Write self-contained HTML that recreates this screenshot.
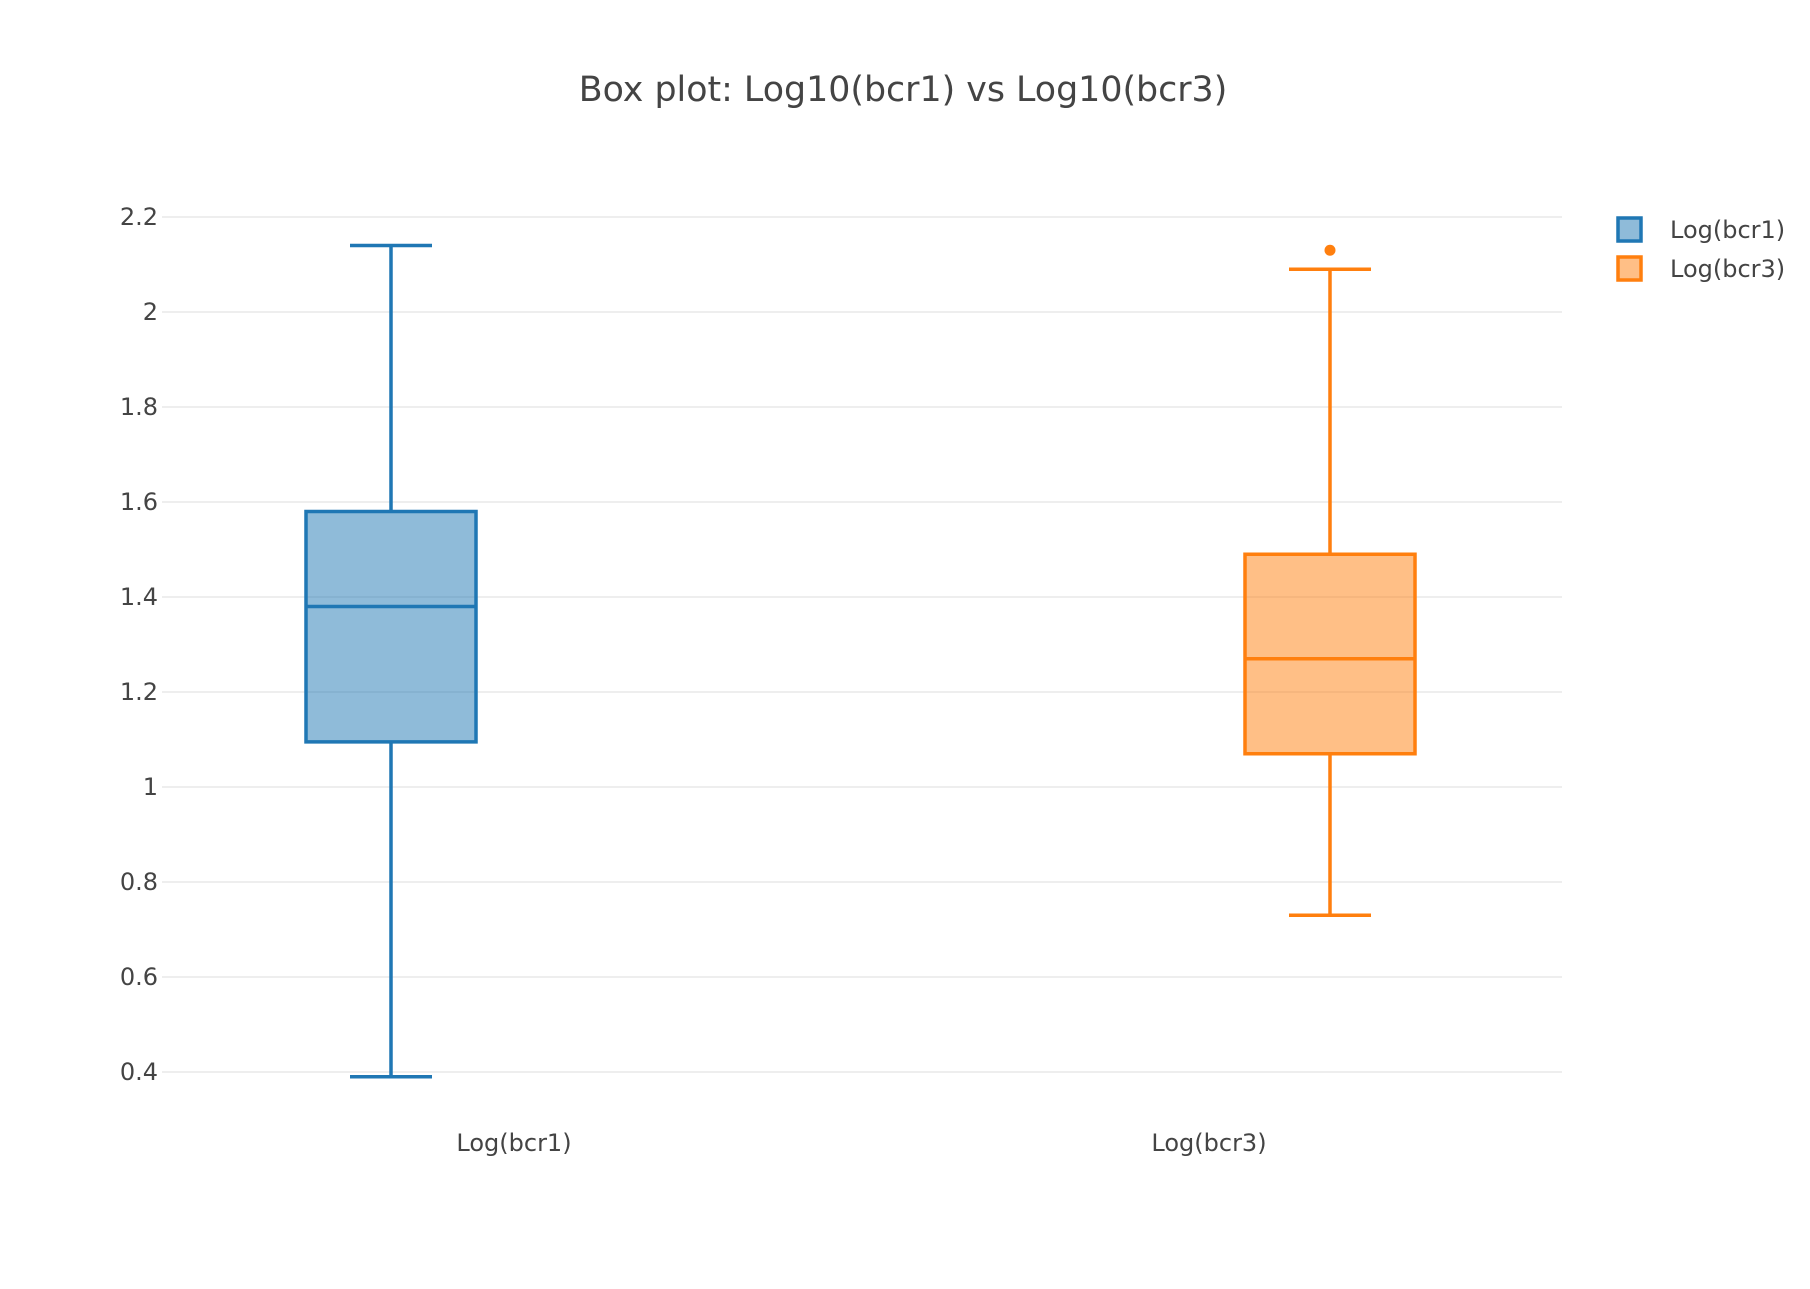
<!DOCTYPE html>
<html><head><meta charset="utf-8"><style>
body{margin:0;background:#fff;}
svg text{font-family:"DejaVu Sans","Liberation Sans",sans-serif;fill:#444;}
</style></head><body>
<svg id="chart" width="1810" height="1284" xmlns="http://www.w3.org/2000/svg">
<text x="903" y="101" text-anchor="middle" font-size="34.8">Box plot: Log10(bcr1) vs Log10(bcr3)</text>
<g id="grid"></g>
<g id="yticks"></g>
<g id="boxes"></g>
<g id="xlabels"></g>
<g>
<g>
<rect x="1618" y="218" width="23" height="23" fill="rgba(31,119,180,0.5)" stroke="#1f77b4" stroke-width="3.5"/>
<text x="1670" y="238" font-size="24">Log(bcr1)</text></g>
<g>
<rect x="1618" y="257" width="23" height="23" fill="rgba(255,127,14,0.5)" stroke="#ff7f0e" stroke-width="3.5"/>
<text x="1670" y="277" font-size="24">Log(bcr3)</text></g>
</g>
</svg>
<script>
const categories = ["Log(bcr1)", "Log(bcr3)"];
const lowerWhisker = [0.39, 0.73];
const q1 = [1.095, 1.07];
const median = [1.38, 1.27];
const q3 = [1.58, 1.49];
const upperWhisker = [2.14, 2.09];
const outliers = [[], [2.13]];
const yTicks = [0.4, 0.6, 0.8, 1, 1.2, 1.4, 1.6, 1.8, 2, 2.2];
const yTickLabels = ["0.4","0.6","0.8","1","1.2","1.4","1.6","1.8","2","2.2"];

const NS = "http://www.w3.org/2000/svg";
const colors = ["#1f77b4", "#ff7f0e"];
const fills = ["rgba(31,119,180,0.5)", "rgba(255,127,14,0.5)"];
const plotL = 162, plotR = 1562;
function yScale(v){ return 1072 - (v - 0.4) * (1072 - 217) / 1.8; }
function xBox(i){ return 391 + i * (1330 - 391); }
function xLabel(i){ return 514 + i * (1209 - 514); }
function mk(tag, attrs, parent){
  const el = document.createElementNS(NS, tag);
  for (const k in attrs) el.setAttribute(k, attrs[k]);
  parent.appendChild(el); return el;
}
const grid = document.getElementById('grid'), yt = document.getElementById('yticks');
yTicks.forEach((t, i) => {
  const y = yScale(t);
  const l = mk('line', {x1: plotL, x2: plotR, y1: y, y2: y, stroke: '#e8e8e8', 'stroke-width': 1.5}, grid);
  
  
  const tx = mk('text', {x: 158, y: y + 8, 'text-anchor': 'end', 'font-size': 24}, yt);
  tx.textContent = yTickLabels[i];
  
  
});
const boxes = document.getElementById('boxes'), xl = document.getElementById('xlabels');
categories.forEach((c, i) => {
  const cx = xBox(i), hw = 85, cw = 41, col = colors[i];
  const g = mk('g', {}, boxes);
  
  
  const st = {stroke: col, 'stroke-width': 3.5, fill: 'none'};
  const w1 = mk('line', Object.assign({x1: cx, x2: cx, y1: yScale(upperWhisker[i]), y2: yScale(q3[i])}, st), g);
  
  
  const w2 = mk('line', Object.assign({x1: cx, x2: cx, y1: yScale(q1[i]), y2: yScale(lowerWhisker[i])}, st), g);
  
  
  const c1 = mk('line', Object.assign({x1: cx - cw, x2: cx + cw, y1: yScale(upperWhisker[i]), y2: yScale(upperWhisker[i])}, st), g);
  
  
  const c2 = mk('line', Object.assign({x1: cx - cw, x2: cx + cw, y1: yScale(lowerWhisker[i]), y2: yScale(lowerWhisker[i])}, st), g);
  
  
  const r = mk('rect', {x: cx - hw, y: yScale(q3[i]), width: 2 * hw, height: yScale(q1[i]) - yScale(q3[i]), fill: fills[i], stroke: col, 'stroke-width': 3.5}, g);
  
  
  const m = mk('line', Object.assign({x1: cx - hw, x2: cx + hw, y1: yScale(median[i]), y2: yScale(median[i])}, st), g);
  
  
  outliers[i].forEach(v => {
    const p = mk('circle', {cx: cx, cy: yScale(v), r: 5.5, fill: col}, g);
    
    
  });
  const t = mk('text', {x: xLabel(i), y: 1151, 'text-anchor': 'middle', 'font-size': 24}, xl);
  t.textContent = c;
  
  
});
</script>
</body></html>
